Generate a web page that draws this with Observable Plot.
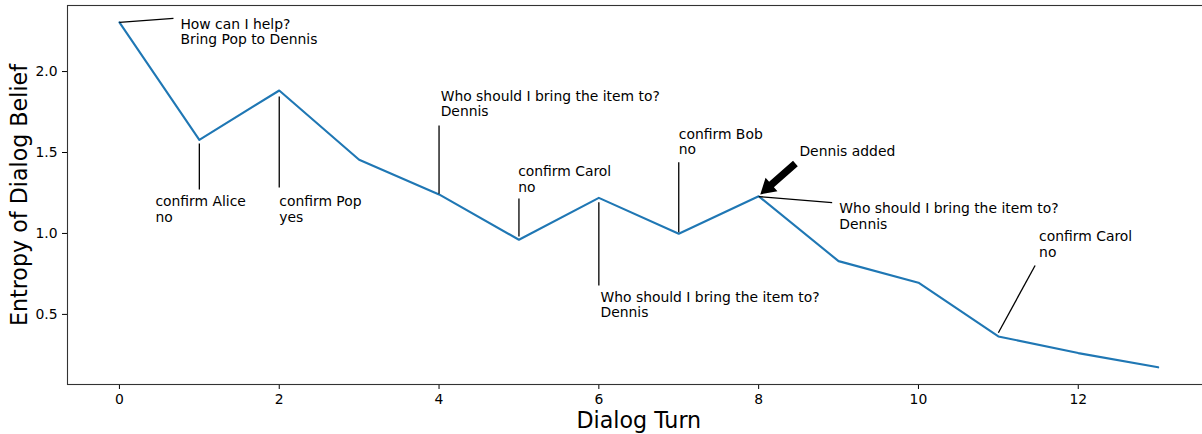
<!DOCTYPE html>
<html><head><meta charset="utf-8">
<script src="https://cdn.jsdelivr.net/npm/d3@7"></script>
<script src="https://cdn.jsdelivr.net/npm/@observablehq/plot@0.6"></script>
<style>body{margin:0;background:#fff;overflow:hidden}</style>
</head><body><div id="chart"></div>
<script>
// ---- data ----
const turns = [0,1,2,3,4,5,6,7,8,9,10,11,12,13];
const entropy = [2.304,1.578,1.883,1.455,1.241,0.961,1.220,0.998,1.230,0.829,0.696,0.364,0.261,0.173];
const xTicks = [0,2,4,6,8,10,12];
const yTicks = [0.5,1.0,1.5,2.0];
const xLabel = "Dialog Turn";
const yLabel = "Entropy of Dialog Belief";

// annotation texts (x, y = left end of first-line baseline, in data units)
const noteTexts = [
  "How can I help?\nBring Pop to Dennis",
  "confirm Alice\nno",
  "confirm Pop\nyes",
  "Who should I bring the item to?\nDennis",
  "confirm Carol\nno",
  "Who should I bring the item to?\nDennis",
  "confirm Bob\nno",
  "Dennis added",
  "Who should I bring the item to?\nDennis",
  "confirm Carol\nno"
];
const noteX = [0.763, 0.45, 2.0, 4.02, 4.99, 6.02, 7.0, 8.51, 9.01, 11.51];
const noteY = [2.264, 1.167, 1.167, 1.817, 1.352, 0.576, 1.586, 1.48, 1.123, 0.951];

// connector lines
const linkX1 = [0, 1, 2, 4, 5, 6, 7, 8, 11];
const linkY1 = [2.304, 1.556, 1.846, 1.667, 1.216, 1.193, 1.44, 1.228, 0.387];
const linkX2 = [0.676, 1, 2, 4, 5, 6, 7, 8.92, 11.46];
const linkY2 = [2.329, 1.272, 1.284, 1.245, 0.981, 0.679, 1.008, 1.19, 0.802];

// "Dennis added" arrow
const arrowTail = [8.46, 1.432];
const arrowTip = [8.02, 1.241];

// ---- layout ----
const W = 1202, H = 434;
const mL = 67, mR = -7.6, mT = 5, mB = 50;
const xDomain = [-0.65, 13.65];
const yDomain = [0.067, 2.408];
const FONT = "DejaVu Sans";

const series = turns.map((t, i) => ({turn: t, entropy: entropy[i]}));
const notes = noteTexts.map((t, i) => ({text: t, x: noteX[i], y: noteY[i]}));
const links = linkX1.map((x, i) => ({x1: x, y1: linkY1[i], x2: linkX2[i], y2: linkY2[i]}));

// arrow direction in pixel space (mirror of Plot scales)
const sx = d3.scaleLinear(xDomain, [mL, W - mR]);
const sy = d3.scaleLinear(yDomain, [H - mB, mT]);
const adx = sx(arrowTip[0]) - sx(arrowTail[0]);
const ady = sy(arrowTip[1]) - sy(arrowTail[1]);
const arrowRot = Math.atan2(adx, -ady) * 180 / Math.PI;
const arrowLen = Math.hypot(adx, ady);
const arrowData = [{x: arrowTip[0], y: arrowTip[1]}];

const arrowShape = {
  draw(context, l) {
    const hw = 9, hl = 15, sw = 3.6;
    context.moveTo(0, -l);
    context.lineTo(hw, -l + hl);
    context.lineTo(sw, -l + hl);
    context.lineTo(sw, 0);
    context.lineTo(-sw, 0);
    context.lineTo(-sw, -l + hl);
    context.lineTo(-hw, -l + hl);
    context.closePath();
  }
};

const chart = Plot.plot({
  width: W, height: H,
  marginLeft: mL, marginRight: mR, marginTop: mT, marginBottom: mB,
  style: {fontFamily: FONT, fontSize: "13.9px", background: "#fff", color: "#000"},
  x: {domain: xDomain},
  y: {domain: yDomain},
  marks: [
    Plot.axisX({ticks: xTicks, tickSize: 5, tickPadding: 5, label: null, fontSize: 13.9}),
    Plot.axisY({ticks: yTicks, tickSize: 5, tickPadding: 5, label: null, tickFormat: d3.format(".1f"), fontSize: 13.9}),
    Plot.line(series, {x: "turn", y: "entropy", stroke: "#1f77b4", strokeWidth: 2.1}),
    Plot.link(links, {x1: "x1", y1: "y1", x2: "x2", y2: "y2", stroke: "#000", strokeWidth: 1.3}),
    Plot.vector(arrowData, {x: "x", y: "y", rotate: arrowRot, length: arrowLen, anchor: "end", shape: arrowShape, fill: "#000", stroke: "none"}),
    Plot.text(notes, {x: "x", y: "y", text: "text", textAnchor: "start", lineAnchor: "top", lineHeight: 1.1, dy: -10.9, fontSize: 13.9, fill: "#000"}),
    Plot.text([xLabel], {text: (d) => d, frameAnchor: "bottom", textAnchor: "middle", lineAnchor: "top", dy: 28, fontSize: 22.2, fill: "#000"}),
    Plot.text([yLabel], {text: (d) => d, frameAnchor: "left", textAnchor: "middle", rotate: -90, lineAnchor: "top", dx: -56, fontSize: 22.2, fill: "#000"}),
    Plot.frame({stroke: "#333", strokeWidth: 1.1})
  ]
});
document.getElementById("chart").appendChild(chart);
</script>
</body></html>
